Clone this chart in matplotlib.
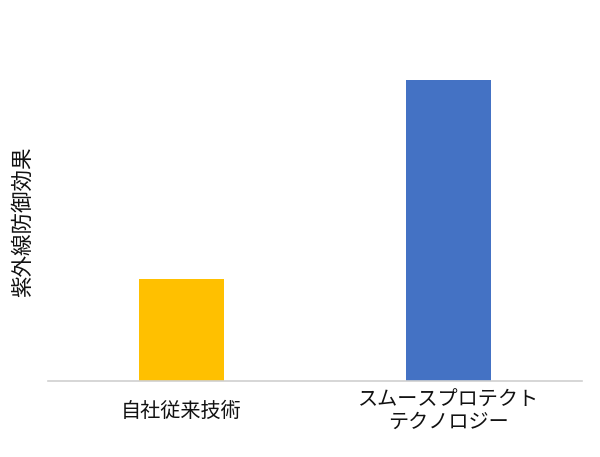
import matplotlib
matplotlib.use('Agg')
import matplotlib.pyplot as plt

plt.rcParams['font.family'] = ['Noto Sans CJK JP', 'DejaVu Sans']

# data
categories = ['自社従来技術', 'スムースプロテクト\nテクノロジー']
values = [34, 100]
colors = ['#FFC000', '#4472C4']
ylabel = '紫外線防御効果'

fig = plt.figure(figsize=(6, 4.57), dpi=100)
ax = fig.add_axes([0.08, 0.1663, 0.89, 0.79])

ax.bar(range(len(categories)), values, width=0.318, color=colors, zorder=2)
ax.set_xlim(-0.5, 1.5)
ax.set_ylim(0, 120)

ax.set_xticks(range(len(categories)))
ax.set_xticklabels(categories, fontsize=14.5, linespacing=1.05, color='#111111',
                   va='center')
ax.tick_params(axis='x', length=0, pad=22)
ax.set_yticks([])

for s in ['top', 'right', 'left']:
    ax.spines[s].set_visible(False)
ax.spines['bottom'].set_color('#d0d0d0')
ax.spines['bottom'].set_linewidth(1.2)

ax.set_ylabel(ylabel, fontsize=15.5, color='#111111', va='center')
ax.yaxis.set_label_coords(-0.047, 0.44)

fig.savefig('out.png', dpi=100)
